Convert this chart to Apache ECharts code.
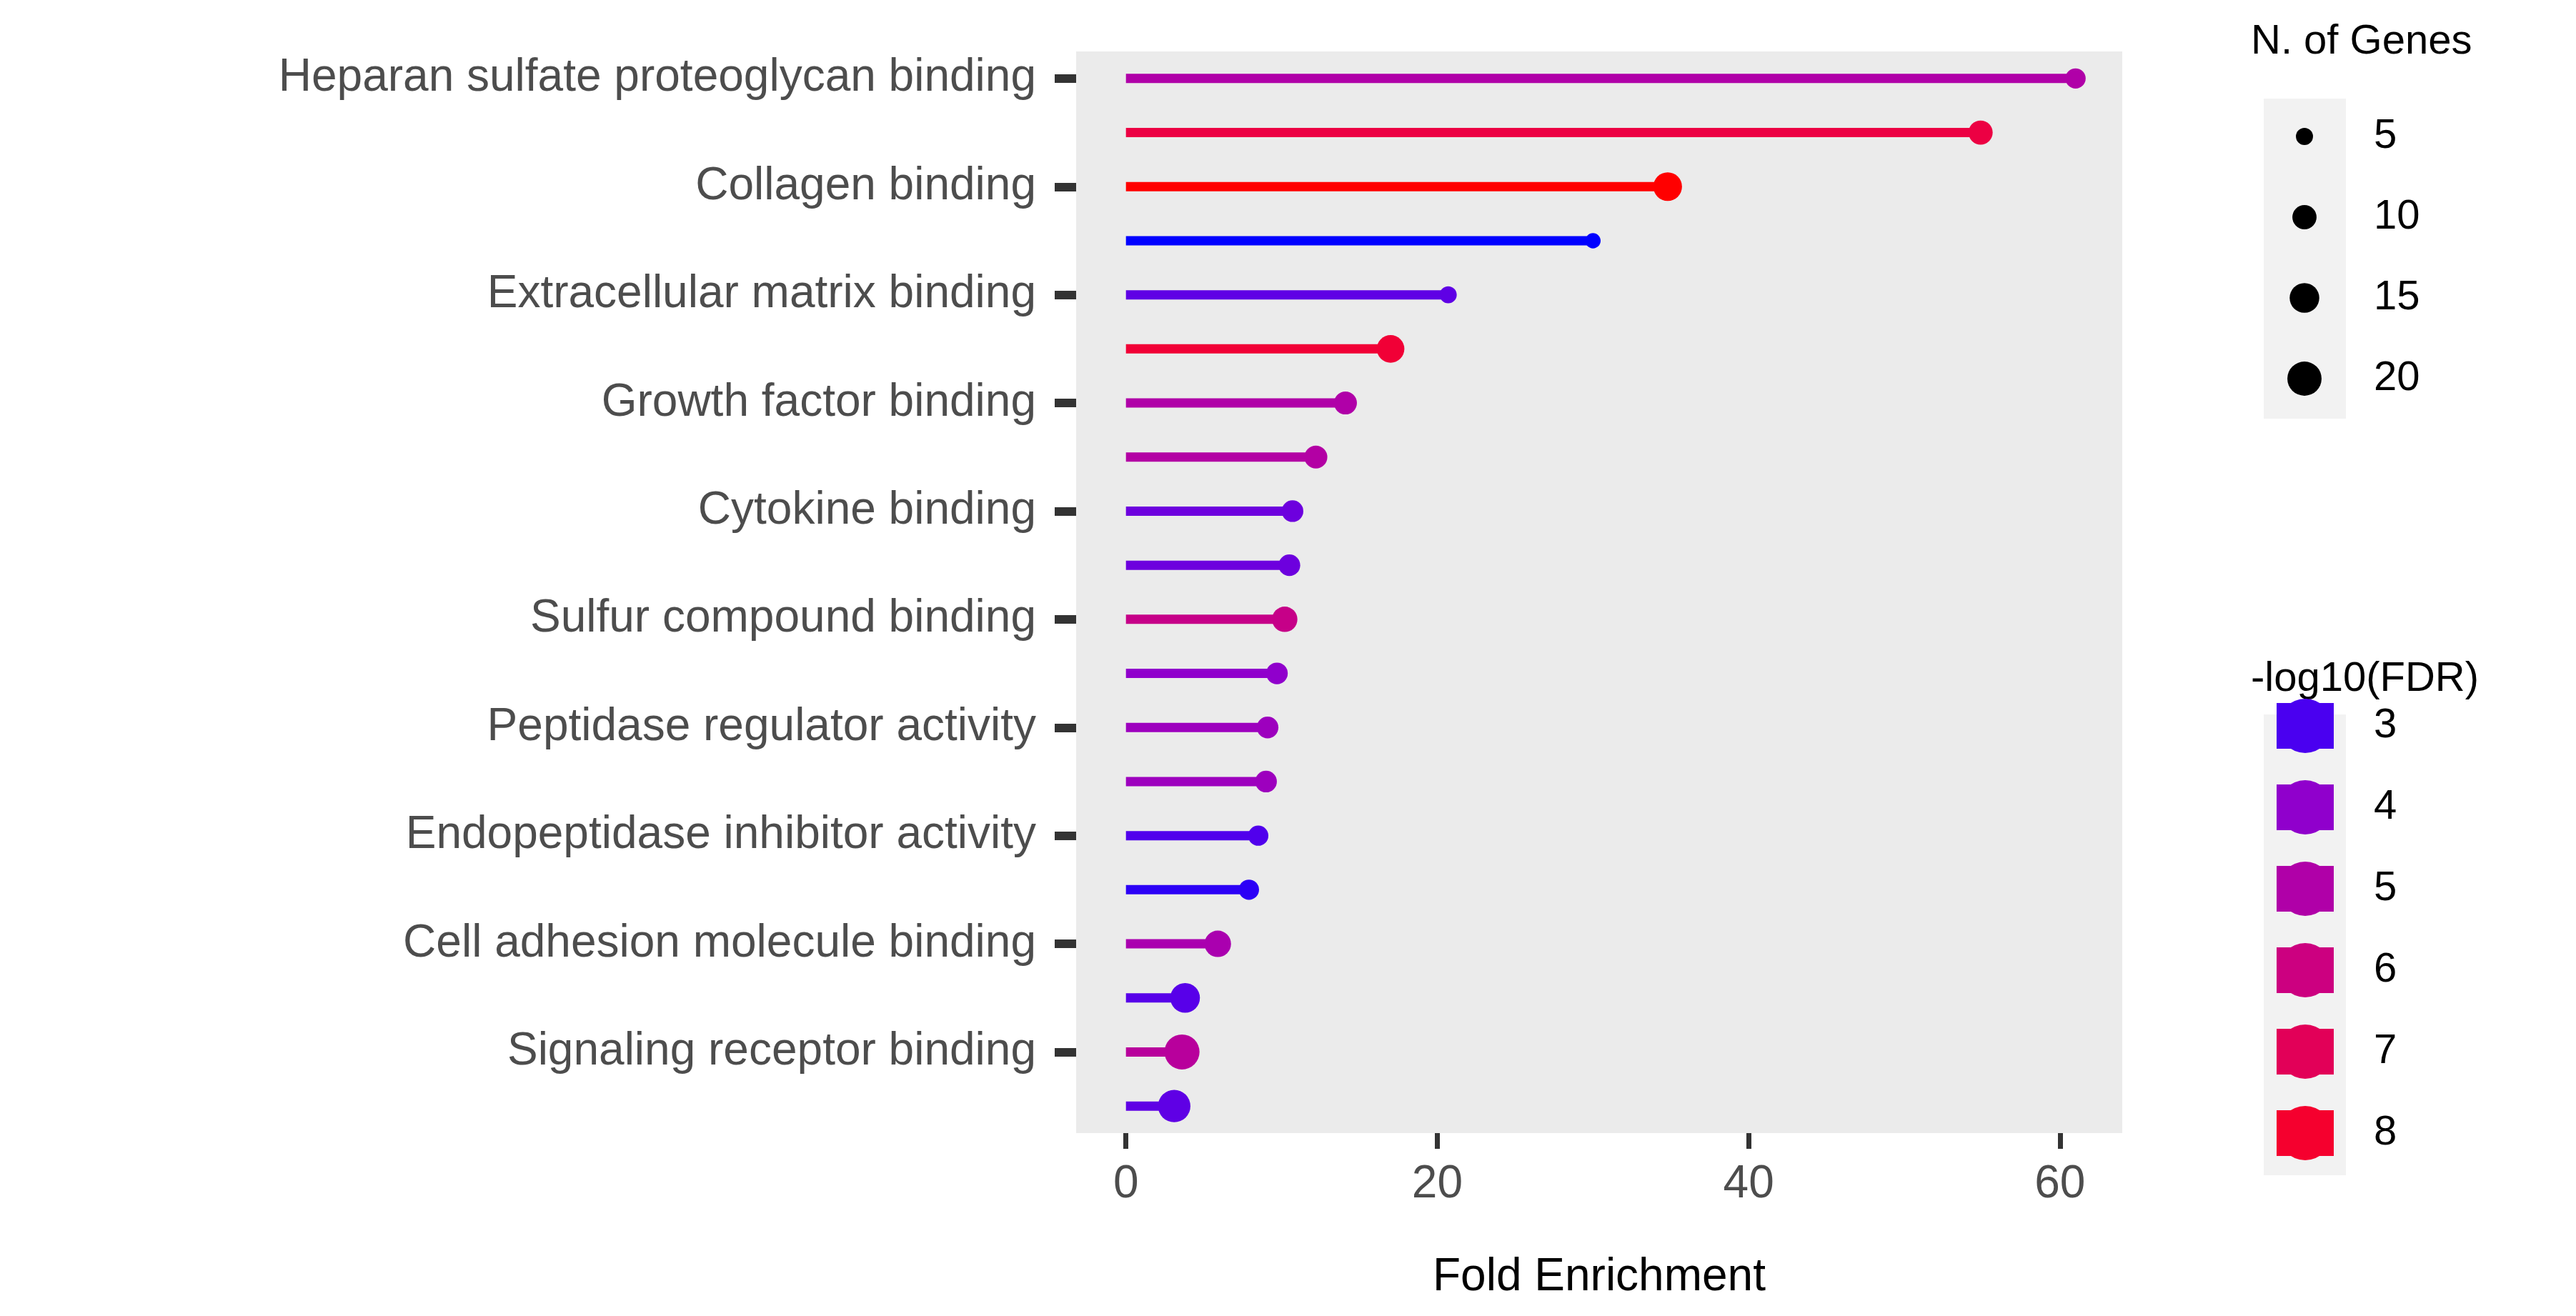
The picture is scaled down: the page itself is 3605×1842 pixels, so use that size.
<!DOCTYPE html>
<html>
<head>
<meta charset="utf-8">
<script src="https://cdn.jsdelivr.net/npm/echarts@6/dist/echarts.min.js"></script>
<style>
  html, body { margin: 0; padding: 0; background: #fff; }
  #chart { width: 3605px; height: 1842px; }
</style>
</head>
<body>
<div id="chart"></div>
<script>
const terms = [
  "Heparan sulfate proteoglycan binding",
  "Proteoglycan binding",
  "Collagen binding",
  "Lipoprotein particle receptor binding",
  "Extracellular matrix binding",
  "Extracellular matrix structural constituent",
  "Growth factor binding",
  "Heparin binding",
  "Cytokine binding",
  "Integrin binding",
  "Sulfur compound binding",
  "Peptidase inhibitor activity",
  "Peptidase regulator activity",
  "Glycosaminoglycan binding",
  "Endopeptidase inhibitor activity",
  "Endopeptidase regulator activity",
  "Cell adhesion molecule binding",
  "Structural molecule activity",
  "Signaling receptor binding",
  "Protein-containing complex binding",
];
const foldEnrichment = [61.0, 54.9, 34.8, 30.0, 20.7, 17.0, 14.1, 12.2, 10.7, 10.5,
  10.2, 9.7, 9.1, 9.0, 8.5, 7.9, 5.9, 3.8, 3.6, 3.1];
const nGenes = [7, 10, 14, 4, 5, 13, 9, 9, 8, 8, 11, 8, 8, 8, 7, 7, 12, 15, 21, 18];
const log10FDR = [5.0, 7.5, 8.3, 2.5, 3.3, 7.8, 5.0, 5.1, 3.5, 3.5,
  5.8, 4.0, 4.4, 4.4, 3.1, 2.8, 4.8, 3.2, 5.3, 3.3];
const xTicks = [0, 20, 40, 60];
const sizeBreaks = [5, 10, 15, 20];
const fdrBreaks = [3, 4, 5, 6, 7, 8];

// colour ramp anchors
const rampStops = [2.5, 3, 4, 5, 6, 7, 8, 8.3];
const rampColors = [[0, 0, 255], [74, 0, 240], [144, 0, 204], [176, 0, 168],
  [204, 0, 128], [226, 0, 88], [245, 0, 46], [255, 0, 0]];
function fdrColor(v) {
  if (v <= rampStops[0]) return `rgb(${rampColors[0].join(",")})`;
  for (let i = 1; i < rampStops.length; i++) {
    if (v <= rampStops[i]) {
      const t = (v - rampStops[i - 1]) / (rampStops[i] - rampStops[i - 1]);
      const a = rampColors[i - 1], b = rampColors[i];
      return `rgb(${a.map((c, k) => Math.round(c + (b[k] - c) * t)).join(",")})`;
    }
  }
  return "rgb(255,0,0)";
}
const dotSize = (n) => 10.7 * Math.sqrt(n);

const chart = echarts.init(document.getElementById("chart"));

const legendFont = "58px Liberation Sans";
const graphics = [];
// size legend
graphics.push({ type: "text", left: 3150, top: 30, style: { text: "N. of Genes", font: legendFont, fill: "#000" } });
graphics.push({ type: "rect", shape: { x: 3168, y: 138, width: 115, height: 448 }, style: { fill: "#f2f2f2" } });
sizeBreaks.forEach((s, i) => {
  const cy = 191 + i * 113;
  graphics.push({ type: "circle", shape: { cx: 3225, cy: cy, r: dotSize(s) / 2 }, style: { fill: "#000" } });
  graphics.push({ type: "text", x: 3322, y: cy, style: { text: String(s), font: legendFont, fill: "#000", verticalAlign: "middle" } });
});
// colour legend
graphics.push({ type: "text", left: 3150, top: 922, style: { text: "-log10(FDR)", font: legendFont, fill: "#000" } });
graphics.push({ type: "rect", shape: { x: 3168, y: 1000, width: 115, height: 645 }, style: { fill: "#f2f2f2" } });
fdrBreaks.forEach((v, i) => {
  const cy = 1016 + i * 114;
  graphics.push({ type: "rect", shape: { x: 3186, y: cy - 32, width: 80, height: 64 }, style: { fill: fdrColor(v) } });
  graphics.push({ type: "circle", shape: { cx: 3226, cy: cy, r: 38 }, style: { fill: fdrColor(v) } });
  graphics.push({ type: "text", x: 3322, y: cy, style: { text: String(v), font: legendFont, fill: "#000", verticalAlign: "middle" } });
});

chart.setOption({
  animation: false,
  backgroundColor: "#fff",
  grid: {
    left: 1506, right: 635, top: 72, bottom: 256,
    show: true, backgroundColor: "#ebebeb", borderWidth: 0,
  },
  xAxis: {
    type: "value",
    min: -3.2,
    max: 64,
    name: "Fold Enrichment",
    nameLocation: "middle",
    nameGap: 170,
    nameTextStyle: { fontSize: 64, color: "#000", fontFamily: "Liberation Sans" },
    axisLine: { show: false, onZero: false },
    splitLine: { show: false },
    axisTick: { show: true, length: 22, lineStyle: { color: "#333", width: 7 }, customValues: xTicks },
    axisLabel: { fontSize: 64, color: "#4d4d4d", margin: 40, fontFamily: "Liberation Sans", customValues: xTicks },
  },
  yAxis: {
    type: "category",
    data: terms,
    inverse: true,
    axisLine: { show: false, onZero: false },
    axisTick: { show: true, length: 30, alignWithLabel: true, lineStyle: { color: "#333", width: 12 } },
    axisLabel: { fontSize: 64, color: "#4d4d4d", margin: 56, fontFamily: "Liberation Sans" },
    splitLine: { show: false },
  },
  series: [
    {
      type: "bar",
      barWidth: 13,
      data: foldEnrichment.map((v, i) => ({ value: v, itemStyle: { color: fdrColor(log10FDR[i]) } })),
    },
    {
      type: "scatter",
      symbol: "circle",
      data: foldEnrichment.map((v, i) => ({
        value: [v, terms[i]],
        symbolSize: dotSize(nGenes[i]),
        itemStyle: { color: fdrColor(log10FDR[i]), opacity: 1 },
      })),
    },
  ],
  graphic: graphics,
});
</script>
</body>
</html>
